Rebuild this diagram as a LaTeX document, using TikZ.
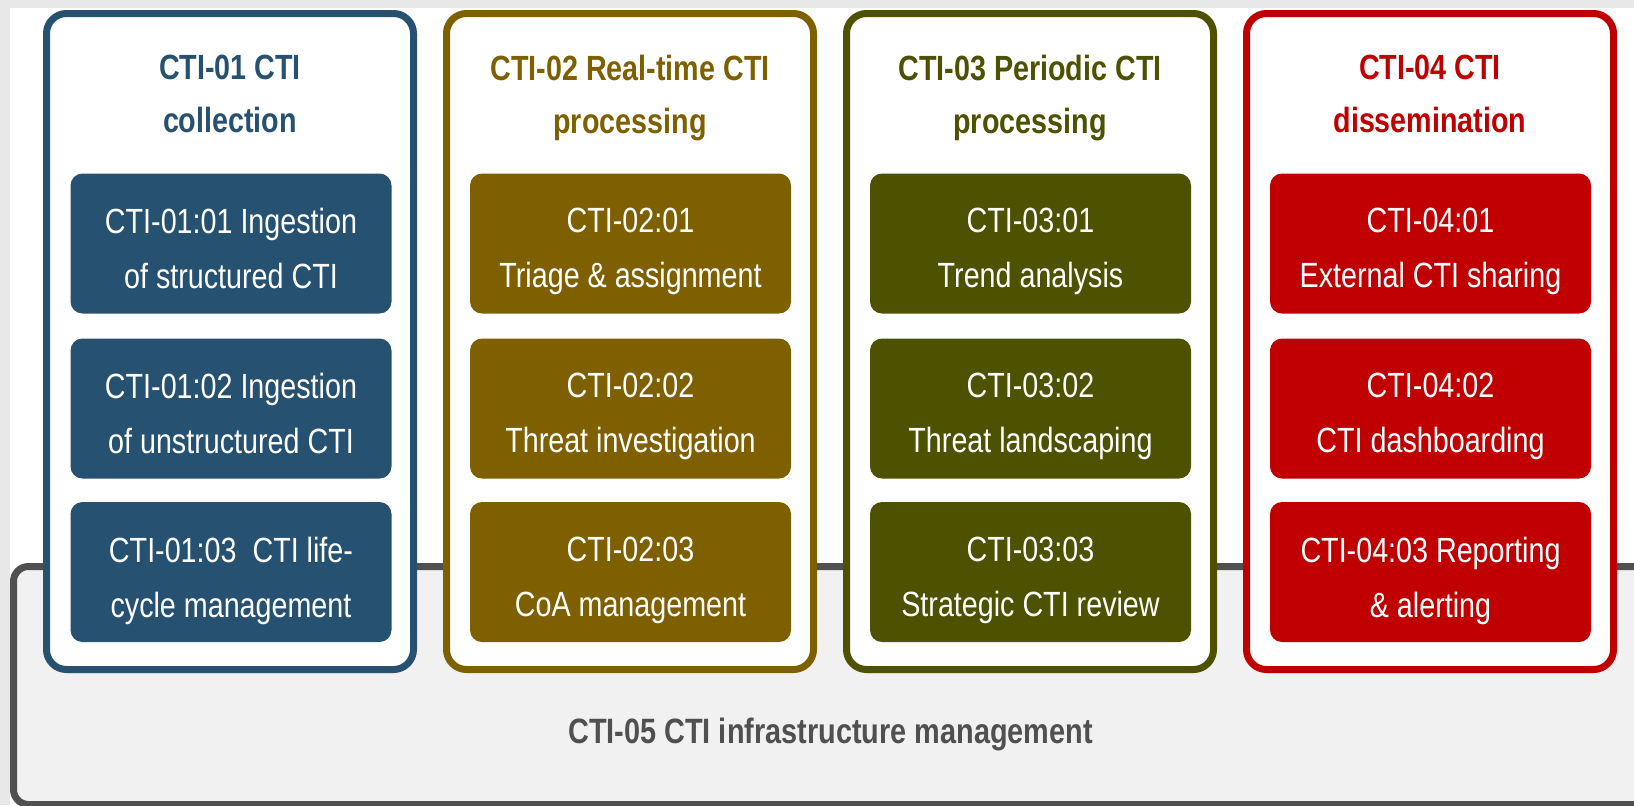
\documentclass[tikz,border=0pt]{standalone}
\usepackage{fontspec}
\setmainfont{Liberation Sans}[FakeStretch=0.82]
\definecolor{ctiblue}{HTML}{275170}
\definecolor{ctigold}{HTML}{7F6000}
\definecolor{ctiolive}{HTML}{4C5200}
\definecolor{ctired}{HTML}{C00000}
\definecolor{ctigray}{HTML}{505050}
\definecolor{infrafill}{HTML}{F1F1F1}
\definecolor{marginfill}{HTML}{E8E8E8}
\tikzset{
  colbox/.style={draw=#1, line width=3.5pt, fill=white, rounded corners=10pt,
    minimum width=183.5pt, minimum height=328pt, inner sep=0pt},
  subbox/.style={fill=#1, rounded corners=6pt, minimum width=160.5pt,
    minimum height=70pt, inner sep=0pt},
  subtext/.style={anchor=north, inner sep=0pt, text=white, align=center,
    font=\fontsize{17.5pt}{27.5pt}\selectfont},
  coltitle/.style={anchor=north, inner sep=0pt, text=#1, align=center,
    font=\fontsize{17.5pt}{26.5pt}\selectfont\bfseries},
  infrabox/.style={draw=ctigray, line width=3.5pt, fill=infrafill, rounded corners=7.5pt,
    minimum width=828.25pt, minimum height=119pt, inner sep=0pt},
  infratext/.style={anchor=base, inner sep=0pt, text=ctigray,
    font=\fontsize{17.6pt}{21pt}\selectfont\bfseries}
}
\begin{document}
\begin{tikzpicture}[x=0.5pt,y=-0.5pt]
\useasboundingbox (0,0) rectangle (1634,805);
\fill[marginfill] (0,0) rectangle (1634,805);
\fill[white] (10,8) rectangle (1634,805);
\begin{scope}
\clip (10,8) rectangle (1634,805);
\node[infrabox] (c5) at (841.75,685.5) {};
\end{scope}
\node[infratext] (c5t) at (830.5,743) {CTI-05 CTI infrastructure management};

% columns
\node[colbox=ctiblue]  (c1) at (230,341.5) {};
\node[colbox=ctigold]  (c2) at (630,341.5) {};
\node[colbox=ctiolive] (c3) at (1030,341.5) {};
\node[colbox=ctired]   (c4) at (1430,341.5) {};

\node[coltitle=ctiblue]  (c1t) at (230,55) {CTI-01 CTI\\collection};
\node[coltitle=ctigold]  (c2t) at (630,55) {CTI-02 Real-time CTI\\processing};
\node[coltitle=ctiolive] (c3t) at (1030,55) {CTI-03 Periodic CTI\\processing};
\node[coltitle=ctired]   (c4t) at (1430,55) {CTI-04 CTI\\dissemination};

% sub boxes
\node[subbox=ctiblue] (b11) at (231,243.5) {};
\node[subbox=ctiblue] (b12) at (231,408.5) {};
\node[subbox=ctiblue] (b13) at (231,572) {};
\node[subbox=ctigold] (b21) at (630.5,243.5) {};
\node[subbox=ctigold] (b22) at (630.5,408.5) {};
\node[subbox=ctigold] (b23) at (630.5,572) {};
\node[subbox=ctiolive] (b31) at (1030.5,243.5) {};
\node[subbox=ctiolive] (b32) at (1030.5,408.5) {};
\node[subbox=ctiolive] (b33) at (1030.5,572) {};
\node[subbox=ctired] (b41) at (1430.5,243.5) {};
\node[subbox=ctired] (b42) at (1430.5,408.5) {};
\node[subbox=ctired] (b43) at (1430.5,572) {};

\node[subtext] (t11) at ([yshift=-17.5pt]b11.north) {CTI-01:01 Ingestion\\of structured CTI};
\node[subtext] (t12) at ([yshift=-17.5pt]b12.north) {CTI-01:02 Ingestion\\of unstructured CTI};
\node[subtext] (t13) at ([yshift=-17.5pt]b13.north) {CTI-01:03\ \ CTI life-\\cycle management};
\node[subtext] (t21) at ([yshift=-17.5pt]b21.north) {CTI-02:01\\Triage \& assignment};
\node[subtext] (t22) at ([yshift=-17.5pt]b22.north) {CTI-02:02\\Threat investigation};
\node[subtext] (t23) at ([yshift=-17.5pt]b23.north) {CTI-02:03\\CoA management};
\node[subtext] (t31) at ([yshift=-17.5pt]b31.north) {CTI-03:01\\Trend analysis};
\node[subtext] (t32) at ([yshift=-17.5pt]b32.north) {CTI-03:02\\Threat landscaping};
\node[subtext] (t33) at ([yshift=-17.5pt]b33.north) {CTI-03:03\\Strategic CTI review};
\node[subtext] (t41) at ([yshift=-17.5pt]b41.north) {CTI-04:01\\External CTI sharing};
\node[subtext] (t42) at ([yshift=-17.5pt]b42.north) {CTI-04:02\\CTI dashboarding};
\node[subtext] (t43) at ([yshift=-17.5pt]b43.north) {CTI-04:03 Reporting\\\& alerting};
\end{tikzpicture}
\end{document}
